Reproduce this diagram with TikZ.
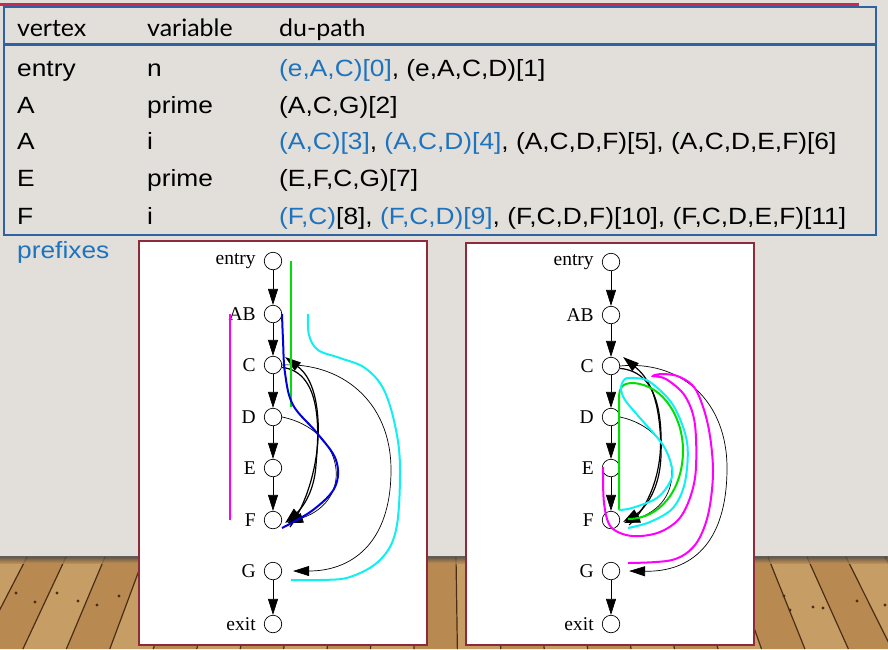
\documentclass[tikz,border=0pt]{standalone}
\usepackage{fontspec}
\setmainfont{Liberation Serif}
\newfontfamily\rowfont[FakeStretch=1.12]{Liberation Sans}
\newfontfamily\headfont[FakeStretch=1.04]{Lato}
\usetikzlibrary{arrows.meta}
\definecolor{wall}{HTML}{E2DFDB}
\definecolor{woodA}{HTML}{B88A52}
\definecolor{woodB}{HTML}{C79D66}
\definecolor{plankc}{HTML}{4A2E14}
\definecolor{tborder}{HTML}{2E63A3}
\definecolor{topred}{HTML}{C62A4E}
\definecolor{tblue}{HTML}{1E73BE}
\definecolor{maroon}{HTML}{8E2A3A}
\definecolor{cmag}{HTML}{FF00FF}
\definecolor{cgrn}{HTML}{00E000}
\definecolor{cblu}{HTML}{0000E0}
\definecolor{ccya}{HTML}{10F0F0}
\newcommand{\rf}{\rowfont\fontsize{23.5}{26}\selectfont}
\newcommand{\hf}{\headfont\fontsize{24}{26}\selectfont}
\begin{document}
\begin{tikzpicture}[x=1pt,y=-1pt,
  vtx/.style={circle,draw,line width=0.7pt,minimum size=17.5pt,inner sep=0pt,fill=white},
  vlab/.style={font=\fontsize{19.5}{21}\selectfont,inner sep=0pt},
  edge/.style={line width=0.7pt,-{Triangle[length=16pt,width=10pt]}},
  bedge/.style={line width=1.2pt,-{Triangle[length=16pt,width=10pt]}},
  coll/.style={line width=2pt},
  rtxt/.style={anchor=base west,inner sep=0pt,font=\rf},
  htxt/.style={anchor=base west,inner sep=0pt,font=\hf},
  panel/.style={draw=maroon,line width=2pt,fill=white},
  plank/.style={draw=plankc,line width=1.2pt}
]
\useasboundingbox (0,0) rectangle (888,649);
% wall and floor
\fill[wall] (0,0) rectangle (888,649);
\foreach \i in {-6,...,24}{
  \pgfmathsetmacro\xa{27+39*\i}
  \pgfmathsetmacro\xb{27+39*(\i+1)}
  \pgfmathsetmacro\xc{444+(\xa-444)*1.114}
  \pgfmathsetmacro\xd{444+(\xb-444)*1.114}
  \pgfmathtruncatemacro\odd{mod(\i+10,2)}
  \ifnum\odd=0 \def\wc{woodA}\else\def\wc{woodB}\fi
  \fill[fill=\wc] (\xa,557) -- (\xb,557) -- (\xd,649) -- (\xc,649) -- cycle;
  \draw[plank] (\xa,557) -- (\xc,649);
}
\shade[top color=black!75,bottom color=woodA,opacity=0.8] (0,556) rectangle (888,563);
\foreach \p in {(16,593),(35,602),(57,593),(78,601),(97,605),(119,596),(784,596),(790,610),(813,607),(823,608),(857,601),(885,605)}
  \fill[plankc] \p circle (1.6);
% top line and table
\fill[topred] (0,2.5) rectangle (859,6);
\draw[tborder,line width=2pt] (4,7) rectangle (876,235);
\draw[tborder,line width=3pt] (4,44) -- (876,44);
\node[htxt] (h1) at (17,36) {vertex};
\node[htxt] (h2) at (147,36) {variable};
\node[htxt] (h3) at (279,36) {du-path};
\node[rtxt] (a1) at (17,76) {entry};
\node[rtxt] (b1) at (147,76) {n};
\node[rtxt] (c1) at (279,76) {{\color{tblue}(e,A,C)[0]}, (e,A,C,D)[1]};
\node[rtxt] (a2) at (17,113) {A};
\node[rtxt] (b2) at (147,113) {prime};
\node[rtxt] (c2) at (279,113) {(A,C,G)[2]};
\node[rtxt] (a3) at (17,149) {A};
\node[rtxt] (b3) at (147,149) {i};
\node[rtxt] (c3) at (279,149) {{\color{tblue}(A,C)[3]}, {\color{tblue}(A,C,D)[4]}, (A,C,D,F)[5], (A,C,D,E,F)[6]};
\node[rtxt] (a4) at (17,186) {E};
\node[rtxt] (b4) at (147,186) {prime};
\node[rtxt] (c4) at (279,186) {(E,F,C,G)[7]};
\node[rtxt] (a5) at (17,224) {F};
\node[rtxt] (b5) at (147,224) {i};
\node[rtxt] (c5) at (279,224) {{\color{tblue}(F,C)}[8], {\color{tblue}(F,C,D)[9]}, (F,C,D,F)[10], (F,C,D,E,F)[11]};
\node[rtxt,text=tblue] (pref) at (17,258) {prefixes};
% panels
\draw[panel] (139,241) rectangle (427,645);
\draw[panel] (466,243) rectangle (754,645);
% left graph
\node[vtx,label={[vlab,label distance=8pt]left:entry}] (lEn) at (273,261) {};
\node[vtx,label={[vlab,label distance=8pt]left:AB}] (lAB) at (273,314) {};
\node[vtx,label={[vlab,label distance=8pt]left:C}] (lC) at (273,365) {};
\node[vtx,label={[vlab,label distance=8pt]left:D}] (lD) at (273,417) {};
\node[vtx,label={[vlab,label distance=8pt]left:E}] (lE) at (273,468) {};
\node[vtx,label={[vlab,label distance=8pt]left:F}] (lF) at (273,520) {};
\node[vtx,label={[vlab,label distance=8pt]left:G}] (lG) at (273,571) {};
\node[vtx,label={[vlab,label distance=8pt]left:exit}] (lX) at (273,624) {};
\draw[edge] (lEn) -- (lAB);
\draw[edge] (lAB) -- (lC);
\draw[edge] (lC) -- (lD);
\draw[edge] (lD) -- (lE);
\draw[edge] (lE) -- (lF);
\draw[edge] (lG) -- (lX);
\draw[edge] (lC.east) .. controls (340,362) and (391,400) .. (391,470) .. controls (391,545) and (350,571) .. ([xshift=11pt]lG.east);
\draw[edge] (lD.east) .. controls (345,430) and (355,500) .. ([xshift=5pt,yshift=-3pt]lF.east);
\draw[bedge] (lC.-15) .. controls (325,372) and (318,440) .. (316,465) .. controls (314,495) and (300,510) .. ([xshift=3pt,yshift=-3pt]lF.east);
\draw[bedge] ([xshift=8pt,yshift=-7pt]lF.east) .. controls (312,495) and (320,450) .. (318,420) .. controls (316,385) and (305,372) .. ([xshift=3pt,yshift=8pt]lC.east);
\draw[coll,cmag] (230,314) -- (230,520);
\draw[coll,cgrn] (291,261) -- (291,407);
\draw[coll,cblu] plot[smooth,tension=0.6] coordinates {(282,314) (283,340) (285,373) (293,405) (317,433) (336,460) (335,487) (313,510) (282,528)};
\draw[coll,ccya] plot[smooth,tension=0.6] coordinates {(308,314) (309,335) (318,350) (340,358) (365,368) (384,390) (396,430) (400,471) (396,530) (380,560) (350,577) (320,580) (291,580)};
% right graph
\node[vtx,label={[vlab,label distance=8pt]left:entry}] (rEn) at (611,262) {};
\node[vtx,label={[vlab,label distance=8pt]left:AB}] (rAB) at (611,315) {};
\node[vtx,label={[vlab,label distance=8pt]left:C}] (rC) at (611,366) {};
\node[vtx,label={[vlab,label distance=8pt]left:D}] (rD) at (611,417) {};
\node[vtx,label={[vlab,label distance=8pt]left:E}] (rE) at (611,468) {};
\node[vtx,label={[vlab,label distance=8pt]left:F}] (rF) at (611,520) {};
\node[vtx,label={[vlab,label distance=8pt]left:G}] (rG) at (611,571) {};
\node[vtx,label={[vlab,label distance=8pt]left:exit}] (rX) at (611,624) {};
\draw[edge] (rEn) -- (rAB);
\draw[edge] (rAB) -- (rC);
\draw[edge] (rC) -- (rD);
\draw[edge] (rD) -- (rE);
\draw[edge] (rE) -- (rF);
\draw[edge] (rG) -- (rX);
\draw[edge] (rC.east) .. controls (680,360) and (727,400) .. (727,468) .. controls (727,545) and (690,572) .. ([xshift=9pt]rG.east);
\draw[edge] (rD.east) .. controls (680,430) and (690,500) .. ([xshift=4pt,yshift=-3pt]rF.east);
\draw[bedge] (rC.-15) .. controls (660,372) and (662,420) .. (661,455) .. controls (660,495) and (640,512) .. ([xshift=3pt,yshift=-2pt]rF.east);
\draw[bedge] ([xshift=9pt,yshift=-5pt]rF.east) .. controls (655,500) and (663,460) .. (660,430) .. controls (657,390) and (645,375) .. ([xshift=3pt,yshift=9pt]rC.east);
\draw[coll,cgrn] (619,510) -- (619,398) .. controls (619,386) and (624,383) .. (633,383) .. controls (665,385) and (683,420) .. (683,450) .. controls (683,490) and (660,519) .. (628,519);
\draw[coll,ccya] plot[smooth,tension=0.55] coordinates {(619,510) (632,508) (657,498) (670,482) (672,468) (663,445) (640,418) (625,400) (621,388) (625,379) (635,378) (650,382) (673,405) (687,442) (685,482) (673,508) (650,522) (628,528)};
\draw[coll,cmag] plot[smooth,tension=0.55] coordinates {(603,467) (604,503) (611,527) (632,536) (660,532) (682,515) (695,478) (695,425) (685,396) (666,379) (653,376) (663,374) (680,377) (696,390) (708,425) (713,471) (708,515) (695,545) (672,560) (628,563)};
\end{tikzpicture}
\end{document}
